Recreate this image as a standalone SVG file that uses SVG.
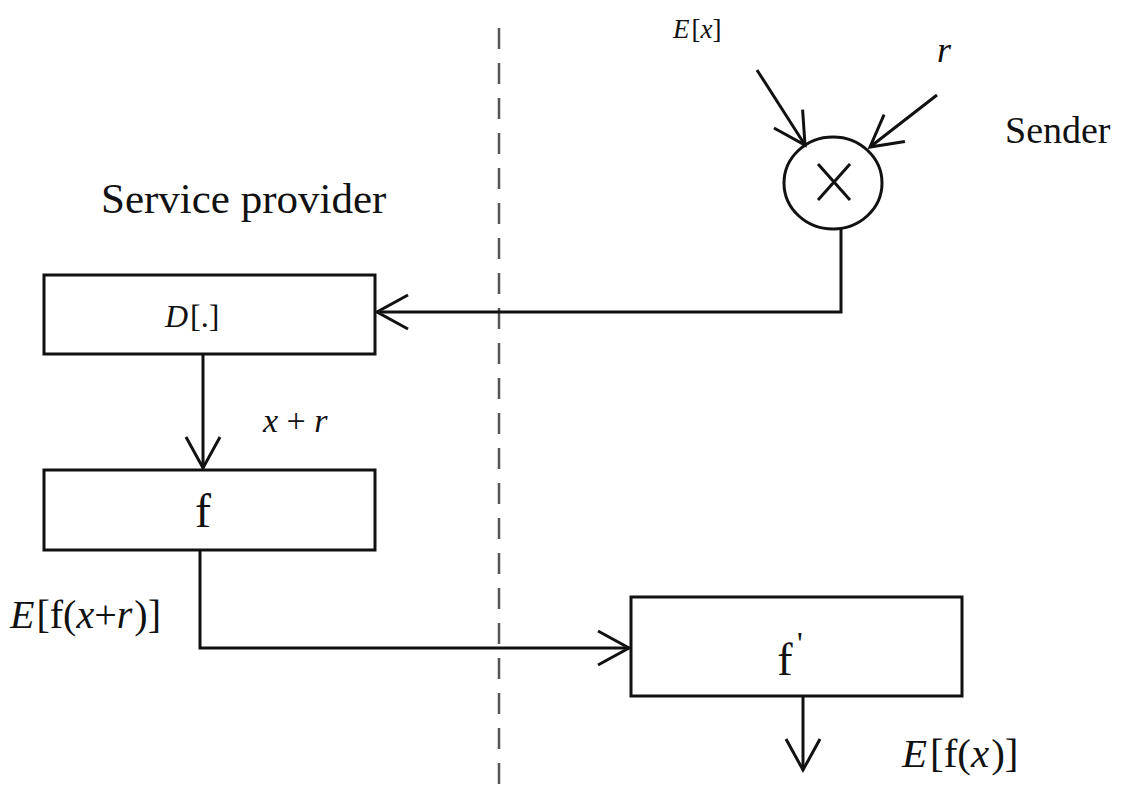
<svg xmlns="http://www.w3.org/2000/svg" width="1125" height="785" viewBox="0 0 1125 785">
  <style>
    .box { fill: #ffffff; stroke: #111111; stroke-width: 3; }
    .wire { fill: none; stroke: #111111; stroke-width: 3; }
    .divider { fill: none; stroke: #555555; stroke-width: 2.5; stroke-dasharray: 21 14; }
    .t { font-family: "Liberation Serif", "Times New Roman", serif; fill: #111111; }
    .i { font-style: italic; }
  </style>
  <defs>
    <marker id="open-arrow" viewBox="-34 -20 38 40" refX="0" refY="0" markerWidth="38" markerHeight="40" markerUnits="userSpaceOnUse" orient="auto">
      <path d="M-31,-17 L0,0 L-31,17" fill="none" stroke="#111111" stroke-width="3" stroke-linejoin="miter"/>
    </marker>
  </defs>

  <rect width="1125" height="785" fill="#ffffff"/>

  <!-- boundary between service provider and sender -->
  <line class="divider" x1="499" y1="28" x2="499" y2="785"/>

  <!-- region labels -->
  <text class="t" x="101" y="213" font-size="43">Service provider</text>
  <text class="t" x="1005" y="143" font-size="38">Sender</text>

  <!-- multiplier node -->
  <g id="multiplier">
    <ellipse class="box" cx="833" cy="183" rx="49" ry="46"/>
    <line class="wire" x1="818" y1="164" x2="850" y2="200"/>
    <line class="wire" x1="850" y1="164" x2="818" y2="200"/>
  </g>

  <!-- decryption node -->
  <g id="decrypt">
    <rect class="box" x="44" y="275" width="331" height="79"/>
    <text class="t" x="165" y="327" font-size="32"><tspan class="i">D</tspan><tspan dx="2">[.]</tspan></text>
  </g>

  <!-- function node -->
  <g id="func">
    <rect class="box" x="44" y="470" width="331" height="80"/>
    <text class="t" x="203" y="527" font-size="48" text-anchor="middle">f</text>
  </g>

  <!-- inverse function node -->
  <g id="func-prime">
    <rect class="box" x="631" y="597" width="331" height="99"/>
    <text class="t" x="785" y="675" font-size="46" text-anchor="middle">f</text>
    <text class="t" x="797" y="654" font-size="32">'</text>
  </g>

  <!-- connectors -->
  <g id="connectors">
    <line class="wire" x1="757" y1="70" x2="805" y2="145" marker-end="url(#open-arrow)"/>
    <line class="wire" x1="937" y1="95" x2="870" y2="147" marker-end="url(#open-arrow)"/>
    <polyline class="wire" points="841,229 841,312 377,312" marker-end="url(#open-arrow)"/>
    <line class="wire" x1="203" y1="354" x2="203" y2="468" marker-end="url(#open-arrow)"/>
    <polyline class="wire" points="200,550 200,648 629,648" marker-end="url(#open-arrow)"/>
    <line class="wire" x1="803" y1="696" x2="803" y2="770" marker-end="url(#open-arrow)"/>
  </g>

  <!-- signal labels -->
  <text class="t" x="673" y="38" font-size="27"><tspan class="i">E</tspan><tspan dx="2">[</tspan><tspan class="i">x</tspan>]</text>
  <text class="t i" x="937" y="62" font-size="36">r</text>
  <text class="t" x="263" y="432" font-size="34"><tspan class="i">x</tspan> + <tspan class="i">r</tspan></text>
  <text class="t" x="10" y="628" font-size="40"><tspan class="i">E</tspan><tspan dx="2">[f(</tspan><tspan class="i">x</tspan>+<tspan class="i">r</tspan><tspan dx="2">)]</tspan></text>
  <text class="t" x="902" y="767" font-size="41"><tspan class="i">E</tspan><tspan dx="3">[f(</tspan><tspan class="i">x</tspan><tspan dx="2">)]</tspan></text>
</svg>
